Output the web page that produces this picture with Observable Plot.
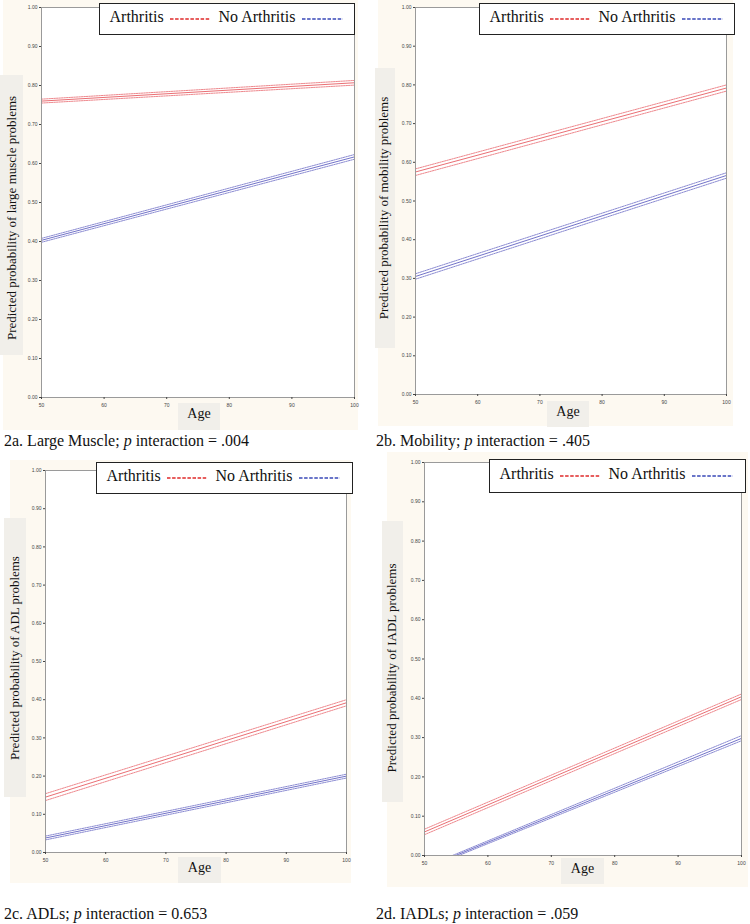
<!DOCTYPE html>
<html><head><meta charset="utf-8">
<script src="https://cdn.jsdelivr.net/npm/d3@7"></script>
<script src="https://cdn.jsdelivr.net/npm/@observablehq/plot@0.6"></script>
<style>
body{margin:0;width:750px;height:924px;position:relative;background:#fff;overflow:hidden}
.serif, .lt, .cap, .ylab, .xlab{font-family:"Liberation Serif","DejaVu Serif","Times New Roman",serif}
.abs{position:absolute}
.cream{background:#fdf9f1}
.greybox{background:#f1efea}
.legend{background:#fff;border:1.5px solid #222;box-sizing:border-box}
.lt{position:absolute;font-size:16px;color:#111;white-space:nowrap}
.cap{position:absolute;font-size:16px;color:#111;white-space:nowrap}
.ylab{position:absolute;font-size:13px;color:#111;white-space:nowrap;transform:translate(-50%,-50%) rotate(-90deg)}
.xlab{position:absolute;font-size:14px;color:#111;white-space:nowrap;transform:translateX(-50%)}
</style></head><body>
<script>
// ---------- data ----------
const ageTicks = [50, 60, 70, 80, 90, 100];
const probTicks = [0, 0.1, 0.2, 0.3, 0.4, 0.5, 0.6, 0.7, 0.8, 0.9, 1.0];
const groupNames = ["Arthritis", "No Arthritis"];

// 2a Large muscle
const aAges = [50, 100];
const aArthMid = [0.760, 0.807];
const aArthLo = [0.755, 0.801];
const aArthHi = [0.765, 0.813];
const aNoMid = [0.403, 0.617];
const aNoLo = [0.398, 0.611];
const aNoHi = [0.408, 0.623];

// 2b Mobility
const bAges = [50, 100];
const bArthMid = [0.575, 0.792];
const bArthLo = [0.566, 0.784];
const bArthHi = [0.583, 0.800];
const bNoMid = [0.305, 0.566];
const bNoLo = [0.298, 0.559];
const bNoHi = [0.312, 0.573];

// 2c ADLs
const cAges = [50, 100];
const cArthMid = [0.145, 0.392];
const cArthLo = [0.136, 0.384];
const cArthHi = [0.154, 0.400];
const cNoMid = [0.038, 0.200];
const cNoLo = [0.033, 0.195];
const cNoHi = [0.043, 0.205];

// 2d IADLs
const dAges = [50, 100];
const dArthMid = [0.060, 0.404];
const dArthLo = [0.053, 0.397];
const dArthHi = [0.067, 0.411];
const dNoAgesMid = [54.9, 100];
const dNoAgesLo = [55.4, 100];
const dNoAgesHi = [54.4, 100];
const dNoMid = [0.000, 0.298];
const dNoLo = [0.000, 0.292];
const dNoHi = [0.000, 0.305];

const captions = [
  '2a. Large Muscle; <i>p</i> interaction = .004',
  '2b. Mobility; <i>p</i> interaction = .405',
  '2c. ADLs; <i>p</i> interaction = 0.653',
  '2d. IADLs; <i>p</i> interaction = .059'
];
const yLabels = [
  "Predicted probability of large muscle problems",
  "Predicted probability of mobility problems",
  "Predicted probability of  ADL problems",
  "Predicted probability of  IADL problems"
];

function rows(group, bands) {
  const out = [];
  bands.forEach(([band, ages, vals]) => {
    ages.forEach((a, i) => out.push({age: a, p: vals[i], group, band, key: group + band}));
  });
  return out;
}
function tri(group, ages, mid, lo, hi) {
  return rows(group, [["mid", ages, mid], ["lo", ages, lo], ["hi", ages, hi]]);
}

const panels = [
  {data: [...tri(groupNames[0], aAges, aArthMid, aArthLo, aArthHi), ...tri(groupNames[1], aAges, aNoMid, aNoLo, aNoHi)],
   bg: [3, 0, 355, 430], frame: [41, 7, 354, 397], ybox: [0, 75, 23, 280], ylc: [12, 218],
   agebox: [178, 403, 42, 27], agey: 406, legend: [99, 3, 256, 32], cap: [4, 432]},
  {data: [...tri(groupNames[0], bAges, bArthMid, bArthLo, bArthHi), ...tri(groupNames[1], bAges, bNoMid, bNoLo, bNoHi)],
   bg: [378, 0, 355, 426], frame: [415, 7, 726, 394], ybox: [375, 68, 20, 280], ylc: [384, 208],
   agebox: [547, 401, 42, 26], agey: 404, legend: [479, 3, 256, 32], cap: [376, 432]},
  {data: [...tri(groupNames[0], cAges, cArthMid, cArthLo, cArthHi), ...tri(groupNames[1], cAges, cNoMid, cNoLo, cNoHi)],
   bg: [10, 460, 341, 423], frame: [45, 470, 346, 852], ybox: [4, 518, 22, 279], ylc: [15, 658],
   agebox: [178, 857, 43, 26], agey: 860, legend: [96, 462, 257, 32], cap: [4, 905]},
  {data: [...tri(groupNames[0], dAges, dArthMid, dArthLo, dArthHi),
          ...rows(groupNames[1], [["mid", dNoAgesMid, dNoMid], ["lo", dNoAgesLo, dNoLo], ["hi", dNoAgesHi, dNoHi]])],
   bg: [387, 452, 361, 435], frame: [424, 462, 741, 855], ybox: [382, 521, 21, 281], ylc: [392, 668],
   agebox: [561, 858, 43, 26], agey: 861, legend: [489, 459, 257, 34], cap: [376, 905]}
];

const colorScale = {domain: groupNames, range: ["#e0353c", "#3a3ab2"]};

function div(cls, x, y, w, h) {
  const d = document.createElement("div");
  d.className = "abs " + cls;
  d.style.left = x + "px"; d.style.top = y + "px";
  if (w != null) d.style.width = w + "px";
  if (h != null) d.style.height = h + "px";
  document.body.appendChild(d);
  return d;
}

panels.forEach((pn, idx) => {
  div("cream", ...pn.bg);
  div("greybox", ...pn.ybox);
  div("greybox", ...pn.agebox);

  const [l, t, r, b] = pn.frame;
  const ml = 22, mr = 6, mt = 4, mb = 16;
  const chart = Plot.plot({
    width: (r - l) + ml + mr,
    height: (b - t) + mt + mb,
    marginLeft: ml, marginRight: mr, marginTop: mt, marginBottom: mb,
    style: {background: "transparent", fontSize: "5px", fontFamily: "Liberation Sans, Arial, sans-serif", color: "#444"},
    x: {domain: [50, 100], label: null},
    y: {domain: [0, 1], label: null},
    color: colorScale,
    marks: [
      Plot.frame({fill: "white"}),
      Plot.line(pn.data.filter(d => d.band === "mid"), {x: "age", y: "p", z: "key", stroke: "group", strokeWidth: 0.8, strokeOpacity: 0.9}),
      Plot.line(pn.data.filter(d => d.band !== "mid"), {x: "age", y: "p", z: "key", stroke: "group", strokeWidth: 0.7, strokeDasharray: "1.5,1", strokeOpacity: 0.85}),
      Plot.frame({stroke: "#9a9a9a", strokeWidth: 1}),
      Plot.axisX({ticks: ageTicks, tickSize: 2, tickPadding: 4, tickFormat: d => String(d), label: null}),
      Plot.axisY({ticks: probTicks, tickSize: 2, tickPadding: 2, tickFormat: d3.format(".2f"), label: null})
    ]
  });
  chart.style.position = "absolute";
  chart.style.left = (l - ml) + "px";
  chart.style.top = (t - mt) + "px";
  document.body.appendChild(chart);

  const yl = document.createElement("div");
  yl.className = "ylab";
  yl.style.left = pn.ylc[0] + "px"; yl.style.top = pn.ylc[1] + "px";
  yl.textContent = yLabels[idx];
  document.body.appendChild(yl);

  const xl = document.createElement("div");
  xl.className = "xlab";
  xl.style.left = (pn.agebox[0] + pn.agebox[2] / 2) + "px";
  xl.style.top = pn.agey + "px";
  xl.textContent = "Age";
  document.body.appendChild(xl);

  const [lx, ly, lw, lh] = pn.legend;
  const lg = div("legend", lx, ly, lw, lh);
  const items = [[groupNames[0], 11, 71, 111], [groupNames[1], 120, 203, 244]];
  items.forEach(([name, tx, x0, x1], i) => {
    const s = document.createElement("span");
    s.className = "lt"; s.style.left = (tx - 1.5) + "px"; s.style.top = (lh / 2 - 12) + "px";
    s.textContent = name;
    lg.appendChild(s);
    const svg = d3.create("svg").attr("width", x1 - x0).attr("height", 4)
      .style("position", "absolute").style("left", (x0 - 1.5) + "px").style("top", (lh / 2 - 3.5) + "px");
    svg.append("line").attr("x1", 0).attr("x2", x1 - x0).attr("y1", 2).attr("y2", 2)
      .attr("stroke", i === 0 ? "#e02a2a" : "#3848b8").attr("stroke-width", 1.3).attr("stroke-dasharray", "3.5,1.6");
    lg.appendChild(svg.node());
  });

  const c = document.createElement("div");
  c.className = "cap";
  c.style.left = pn.cap[0] + "px"; c.style.top = pn.cap[1] + "px";
  c.innerHTML = captions[idx];
  document.body.appendChild(c);
});
</script>
</body></html>
